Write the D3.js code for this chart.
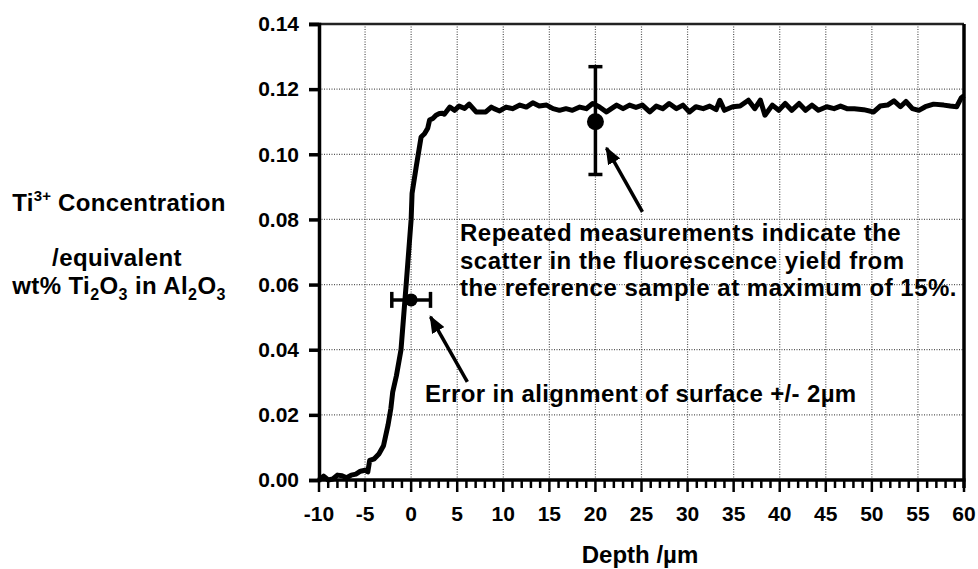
<!DOCTYPE html>
<html>
<head>
<meta charset="utf-8">
<script src="https://cdn.jsdelivr.net/npm/d3@7"></script>
<style>
  body { margin: 0; background: #fff; }
  svg text { font-family: "Liberation Sans", Arial, sans-serif; font-weight: bold; fill: #000; }
</style>
</head>
<body>
<div id="chart"></div>
<script>
// depth profile (um) and Ti3+ concentration
const depth = [-10, -9.5, -9, -8.5, -8, -7.5, -7, -6.5, -6, -5.5, -5, -4.7, -4.5, -4, -3.5, -3, -2.5, -2.2, -2, -1.6,
    -1.1, -0.54, 0, 0.1, 0.54, 1.08, 1.45, 1.8, 2.0, 2.35, 2.7, 3.07, 3.4, 3.6, 4.2, 4.7, 5.2, 5.8, 6.3, 7.05,
    8.1, 8.7, 9.0, 9.6, 10.3, 11.0, 11.8, 12.5, 13.2, 13.9, 14.7, 15.4, 16.1, 16.8, 17.5, 18.3, 19.0, 19.7, 20.4, 21.2,
    22.3, 23.0, 23.7, 24.4, 25.1, 25.9, 26.6, 27.3, 28.0, 28.8, 29.5, 30.2, 30.9, 31.7, 32.4, 33.1, 33.5, 34.0, 34.9, 35.7,
    36.6, 37.3, 37.9, 38.4, 39.2, 39.9, 40.6, 41.3, 42.1, 42.8, 43.5, 44.2, 45.1, 45.9, 46.6, 47.3, 48.1, 49.1, 50.2, 50.9,
    51.7, 52.4, 53.1, 53.7, 54.4, 55.1, 55.8, 56.7, 57.8, 58.5, 59.2, 59.7, 60];
const conc = [0.0, 0.0012, 0.0, 0.0003, 0.0015, 0.0013, 0.0007, 0.0015, 0.0018, 0.0027, 0.0030, 0.0025, 0.0060, 0.0065, 0.0080, 0.0105, 0.017, 0.022, 0.027, 0.032,
    0.040, 0.060, 0.080, 0.088, 0.096, 0.1053, 0.1063, 0.108, 0.1105, 0.111, 0.112, 0.1125, 0.1126, 0.1123, 0.1145, 0.1135, 0.1148, 0.1141, 0.1154, 0.1130,
    0.1130, 0.1145, 0.1140, 0.1133, 0.1145, 0.1140, 0.1151, 0.1145, 0.1158, 0.1148, 0.1151, 0.1140, 0.1135, 0.1140, 0.1135, 0.1145, 0.1140, 0.1156, 0.1146, 0.1130,
    0.1151, 0.1140, 0.1151, 0.1144, 0.1151, 0.1130, 0.1148, 0.1140, 0.1156, 0.1140, 0.1151, 0.1130, 0.1146, 0.1140, 0.1148, 0.1137, 0.1166, 0.1135, 0.1146, 0.1148,
    0.1166, 0.1140, 0.1166, 0.1120, 0.1151, 0.1135, 0.1156, 0.1135, 0.1156, 0.1135, 0.1151, 0.1135, 0.1146, 0.1140, 0.1148, 0.1140, 0.1140, 0.1137, 0.1130, 0.1148,
    0.1151, 0.1164, 0.1146, 0.1162, 0.1140, 0.1135, 0.1146, 0.1154, 0.1151, 0.1148, 0.1146, 0.1173, 0.1180];

// error bars: reference sample scatter and surface alignment
const scatterPoint = { x: 20, y: 0.110, lo: 0.0938, hi: 0.1269 };
const alignPoint = { x: 0, y: 0.0553, lo: -2.1, hi: 2.1 };

const xTicks = d3.range(-10, 61, 5);
const xMinor = d3.range(-10, 61, 1);
const yTicks = [0.00, 0.02, 0.04, 0.06, 0.08, 0.10, 0.12, 0.14];

const noteLines = ["Repeated measurements indicate the",
    "scatter in the fluorescence yield from",
    "the reference sample at maximum of 15%."];

const W = 978, H = 569;
const margin = { top: 24, right: 14, bottom: 89, left: 319 };

const svg = d3.select("#chart").append("svg")
    .attr("width", W)
    .attr("height", H);

const x = d3.scaleLinear().domain([-10, 60]).range([margin.left, W - margin.right]);
const y = d3.scaleLinear().domain([0, 0.14]).range([H - margin.bottom, margin.top]);

// grid
svg.append("g").selectAll("line")
    .data(xTicks.filter(d => d > -10 && d < 60))
    .join("line")
    .attr("x1", d => x(d)).attr("x2", d => x(d))
    .attr("y1", y(0)).attr("y2", y(0.14))
    .attr("stroke", "#555").attr("stroke-width", 1.2).attr("stroke-dasharray", "1,1.5");

svg.append("g").selectAll("line")
    .data(yTicks.filter(d => d > 0 && d < 0.14))
    .join("line")
    .attr("x1", x(-10)).attr("x2", x(60))
    .attr("y1", d => y(d)).attr("y2", d => y(d))
    .attr("stroke", "#555").attr("stroke-width", 1.2).attr("stroke-dasharray", "1,1.5");

// frame top + right
svg.append("line")
    .attr("x1", x(-10) - 10).attr("x2", x(60))
    .attr("y1", y(0.14)).attr("y2", y(0.14))
    .attr("stroke", "#222").attr("stroke-width", 2.5);
svg.append("line")
    .attr("x1", x(60)).attr("x2", x(60))
    .attr("y1", y(0.14)).attr("y2", y(0) + 8)
    .attr("stroke", "#000").attr("stroke-width", 3.5);

// y axis
const yAxis = d3.axisLeft(y).tickValues(yTicks).tickFormat(d3.format(".2f")).tickSize(10).tickPadding(10);
const gy = svg.append("g").attr("transform", `translate(${x(-10)},0)`).call(yAxis);
gy.select(".domain").attr("stroke-width", 3.5);
gy.selectAll(".tick line").attr("stroke-width", 3.5);
gy.selectAll(".tick text").style("font-size", "21px");

// x axis: minor ticks every 1, major every 5
const gx = svg.append("g").attr("transform", `translate(0,${y(0)})`);
gx.selectAll(".minor")
    .data(xMinor)
    .join("line")
    .attr("class", "minor")
    .attr("x1", d => x(d)).attr("x2", d => x(d))
    .attr("y1", 0).attr("y2", d => d % 5 === 0 ? 12 : 8)
    .attr("stroke", "#000").attr("stroke-width", 2.5);
gx.append("line")
    .attr("x1", x(-10) - 1.5).attr("x2", x(60) + 1.5)
    .attr("stroke", "#000").attr("stroke-width", 3.5);
gx.selectAll(".lab")
    .data(xTicks)
    .join("text")
    .attr("class", "lab")
    .attr("x", d => x(d))
    .attr("y", 41)
    .attr("text-anchor", "middle")
    .style("font-size", "21px")
    .text(d => d);

// profile curve
const line = d3.line().x((d, i) => x(depth[i])).y(d => y(d));
svg.append("path")
    .datum(conc)
    .attr("d", line)
    .attr("fill", "none")
    .attr("stroke", "#000")
    .attr("stroke-width", 5)
    .attr("stroke-linejoin", "round");

// vertical error bar
const eb = svg.append("g").attr("stroke", "#000").attr("stroke-width", 3.5);
eb.append("line")
    .attr("x1", x(scatterPoint.x)).attr("x2", x(scatterPoint.x))
    .attr("y1", y(scatterPoint.lo)).attr("y2", y(scatterPoint.hi));
[scatterPoint.lo, scatterPoint.hi].forEach(v => {
    eb.append("line")
        .attr("x1", x(scatterPoint.x) - 7).attr("x2", x(scatterPoint.x) + 7)
        .attr("y1", y(v)).attr("y2", y(v));
});
svg.append("circle")
    .attr("cx", x(scatterPoint.x)).attr("cy", y(scatterPoint.y)).attr("r", 8.5).attr("fill", "#000");

// horizontal error bar
eb.append("line")
    .attr("x1", x(alignPoint.lo)).attr("x2", x(alignPoint.hi))
    .attr("y1", y(alignPoint.y)).attr("y2", y(alignPoint.y));
[alignPoint.lo, alignPoint.hi].forEach(v => {
    eb.append("line")
        .attr("x1", x(v)).attr("x2", x(v))
        .attr("y1", y(alignPoint.y) - 8).attr("y2", y(alignPoint.y) + 8);
});
svg.append("circle")
    .attr("cx", x(alignPoint.x)).attr("cy", y(alignPoint.y)).attr("r", 6.5).attr("fill", "#000");

// arrows
svg.append("defs").append("marker")
    .attr("id", "head")
    .attr("viewBox", "0 0 10 10")
    .attr("refX", 9).attr("refY", 5)
    .attr("markerWidth", 5).attr("markerHeight", 4)
    .attr("markerUnits", "strokeWidth")
    .attr("orient", "auto")
    .attr("preserveAspectRatio", "none")
    .append("path").attr("d", "M0,0L10,5L0,10Z").attr("fill", "#000");

function arrow(x0, y0, x1, y1) {
    svg.append("line")
        .attr("x1", x(x0)).attr("y1", y(y0))
        .attr("x2", x(x1)).attr("y2", y(y1))
        .attr("stroke", "#000").attr("stroke-width", 3.5)
        .attr("marker-end", "url(#head)");
}
arrow(25.1, 0.0823, 21.2, 0.1019);
arrow(6.1, 0.0301, 2.1, 0.0501);

// annotations
svg.append("text")
    .attr("x", 460).attr("y", 241)
    .style("font-size", "24px").style("letter-spacing", "0.5px")
    .selectAll("tspan")
    .data(noteLines)
    .join("tspan")
    .attr("x", 460)
    .attr("dy", (d, i) => i === 0 ? 0 : 27.5)
    .text(d => d);

svg.append("text")
    .attr("x", 425).attr("y", 402)
    .style("font-size", "24px").style("letter-spacing", "0.35px")
    .text("Error in alignment of surface +/- 2\u00b5m");

// x title
svg.append("text")
    .attr("x", 640).attr("y", 563)
    .attr("text-anchor", "middle")
    .style("font-size", "24px")
    .text("Depth /\u00b5m");

// y title
const yt = svg.append("g").style("font-size", "24px").style("letter-spacing", "0.4px");
const t1 = yt.append("text").attr("x", 119).attr("y", 211).attr("text-anchor", "middle");
t1.append("tspan").text("Ti");
t1.append("tspan").attr("dy", -10).style("font-size", "15px").style("letter-spacing", "0px").text("3+");
t1.append("tspan").attr("dy", 10).text(" Concentration");

yt.append("text").attr("x", 117).attr("y", 266).attr("text-anchor", "middle").text("/equivalent");

const t3 = yt.append("text").attr("x", 119).attr("y", 294).attr("text-anchor", "middle");
[["wt% Ti", 0], ["2", 1], ["O", 0], ["3", 1], [" in Al", 0], ["2", 1], ["O", 0], ["3", 1]].forEach(([s, sub], i, arr) => {
    const prevSub = i > 0 ? arr[i - 1][1] : 0;
    t3.append("tspan")
        .attr("dy", sub && !prevSub ? 6 : (!sub && prevSub ? -6 : 0))
        .style("font-size", sub ? "16px" : null)
        .text(s);
});
</script>
</body>
</html>
